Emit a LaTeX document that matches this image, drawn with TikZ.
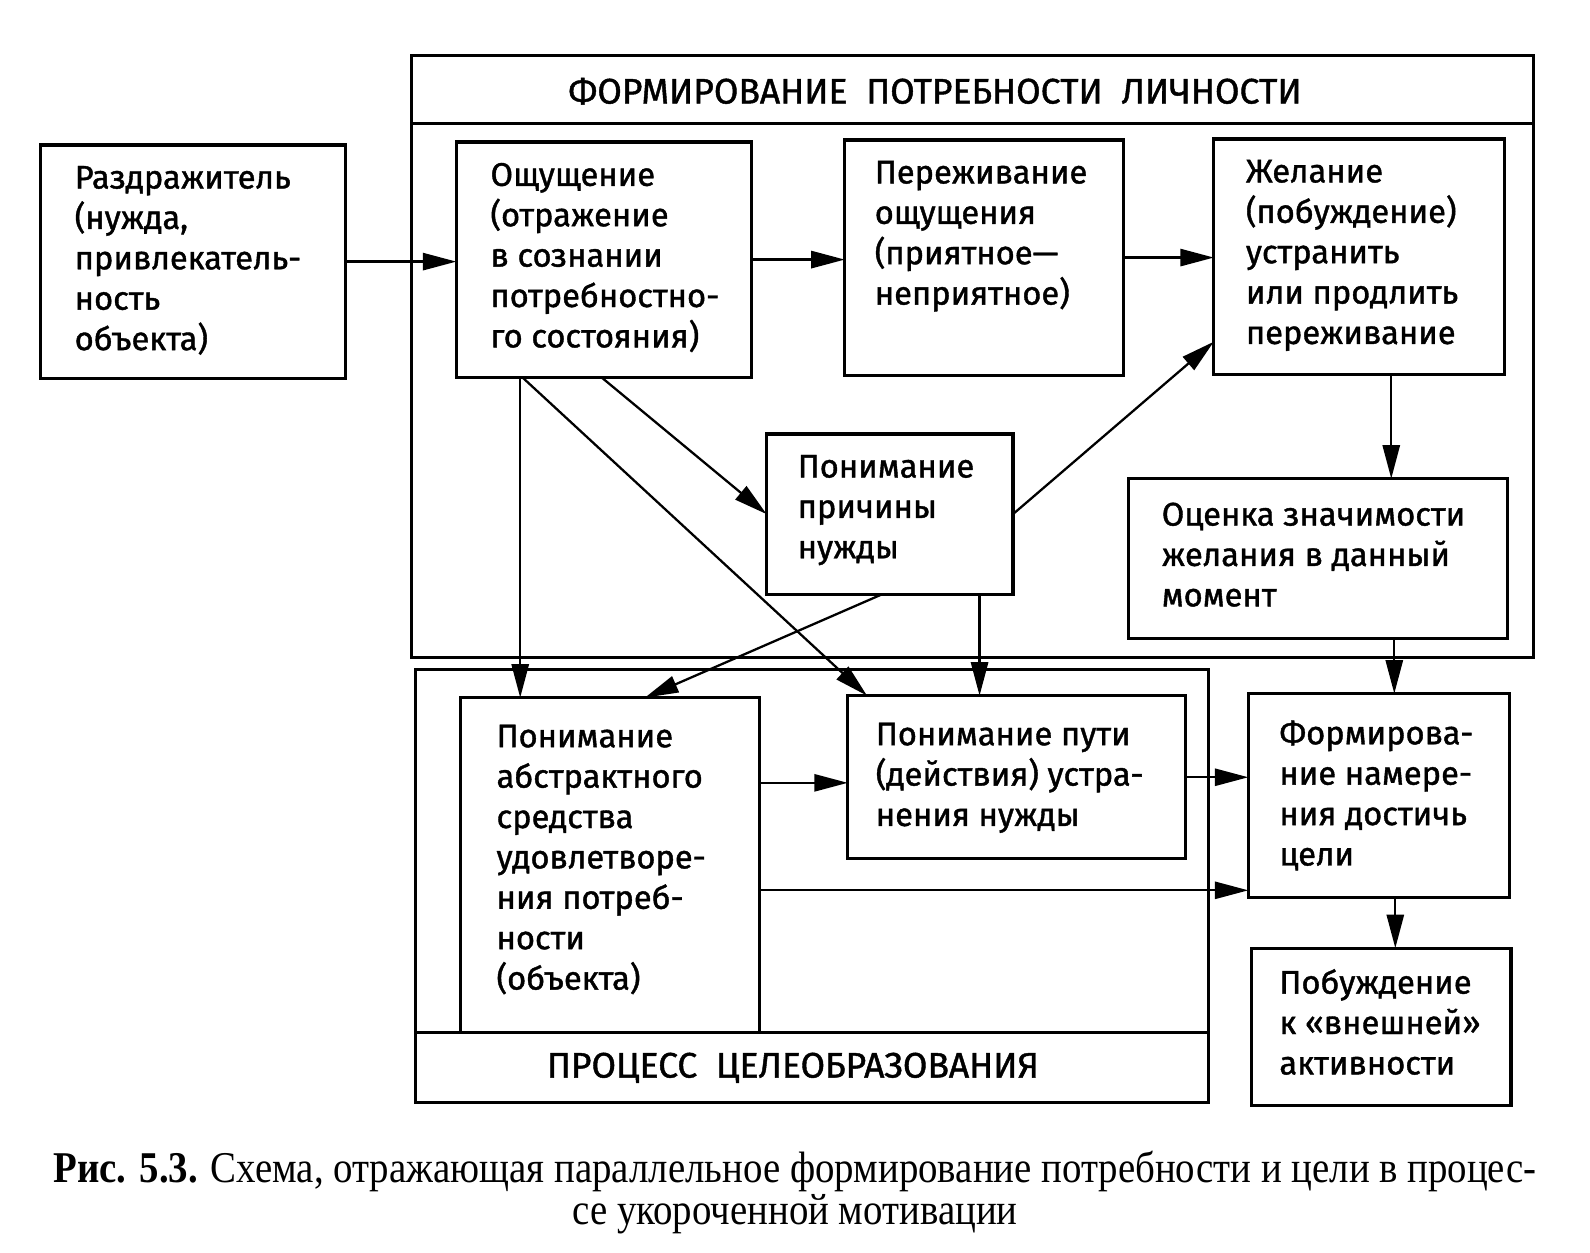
\documentclass[tikz,border=0pt]{standalone}
\usepackage{fontspec}
\setmainfont[FakeStretch=0.885]{Liberation Serif}
\newfontfamily\boxfont[FakeBold=1.2]{Fira Sans}
\usetikzlibrary{arrows.meta}
\newlength\ux
\setlength\ux{0.01014cm}
\begin{document}
\begin{tikzpicture}[x=\ux,y=-\ux,
  box/.style={draw, line width=0.9pt, anchor=north west, inner sep=0, outer sep=0},
  txt/.style={anchor=north west, inner sep=0, align=left, font=\boxfont\fontsize{9.3}{11.5}\selectfont},
  ttl/.style={inner sep=0, font=\boxfont\fontsize{10.1}{12}\selectfont},
  arr/.style={line width=0.65pt, -{Triangle[length=0.335cm,width=0.172cm]}},
  band/.style={line width=0.9pt}
]
\useasboundingbox (0,0) rectangle (1568,1234.7);
% frames
\node[box, minimum width=1106\ux, minimum height=593\ux] (fp) at (406,55) {};
\draw[band] ([yshift=-67\ux]fp.north west) -- ([yshift=-67\ux]fp.north east);
\node[ttl] (fpT) at (922,90) {ФОРМИРОВАНИЕ\ \ ПОТРЕБНОСТИ\ \ ЛИЧНОСТИ};
\node[box, minimum width=782\ux, minimum height=427\ux] (fc) at (410,660) {};
\draw[band] ([yshift=69\ux]fc.south west) -- ([yshift=69\ux]fc.south east);
\node[ttl] (fcT) at (782,1053) {ПРОЦЕСС\ \ ЦЕЛЕОБРАЗОВАНИЯ};
% boxes
\node[box, minimum width=301\ux, minimum height=230\ux] (razd) at (40,143) {};
\node[box, minimum width=291\ux, minimum height=232\ux] (osh) at (450,140) {};
\node[box, minimum width=275\ux, minimum height=232\ux] (per) at (833,138) {};
\node[box, minimum width=287\ux, minimum height=232\ux] (zhel) at (1197,137) {};
\node[box, minimum width=243\ux, minimum height=158\ux] (prich) at (756,428) {};
\node[box, minimum width=374\ux, minimum height=158\ux] (ocen) at (1113,472) {};
\node[box, minimum width=295\ux, minimum height=330\ux] (abstr) at (454,688) {};
\node[box, minimum width=333\ux, minimum height=161\ux] (put) at (836,686) {};
\node[box, minimum width=258\ux, minimum height=201\ux] (form) at (1231,684) {};
\node[box, minimum width=256\ux, minimum height=155\ux] (pob) at (1234,935) {};
% texts
\node[txt] (razdT) at ([shift={(33,20)}]razd.north west) {Раздражитель\\(нужда,\\привлекатель-\\ность\\объекта)};
\node[txt] (oshT) at ([shift={(33,20)}]osh.north west) {Ощущение\\(отражение\\в сознании\\потребностно-\\го состояния)};
\node[txt] (perT) at ([shift={(29,20)}]per.north west) {Переживание\\ощущения\\(приятное—\\неприятное)};
\node[txt] (zhelT) at ([shift={(31,20)}]zhel.north west) {Желание\\(побуждение)\\устранить\\или продлить\\переживание};
\node[txt] (prichT) at ([shift={(30,20)}]prich.north west) {Понимание\\причины\\нужды};
\node[txt] (ocenT) at ([shift={(32,23)}]ocen.north west) {Оценка значимости\\желания в данный\\момент};
\node[txt] (abstrT) at ([shift={(35,26)}]abstr.north west) {Понимание\\абстрактного\\средства\\удовлетворе-\\ния потреб-\\ности\\(объекта)};
\node[txt] (putT) at ([shift={(27,26)}]put.north west) {Понимание пути\\(действия) устра-\\нения нужды};
\node[txt] (formT) at ([shift={(30,26)}]form.north west) {Формирова-\\ние намере-\\ния достичь\\цели};
\node[txt] (pobT) at ([shift={(27,20)}]pob.north west) {Побуждение\\к «внешней»\\активности};
% anchor coordinates
\coordinate (a4) at ([xshift=63\ux]osh.south west);
\coordinate (a5s) at ([xshift=65\ux]osh.south west);
\coordinate (a5e) at ([xshift=19\ux]put.north west);
\coordinate (a6s) at ([xshift=143\ux]osh.south west);
\coordinate (a7e) at ([yshift=-84\ux]zhel.west);
\coordinate (a8s) at ([xshift=114\ux]prich.south west);
\coordinate (a8e) at ([xshift=182\ux]abstr.north west);
\coordinate (a9) at ([xshift=210\ux]prich.south west);
\coordinate (a10) at ([xshift=175\ux]zhel.south west);
\coordinate (a11) at ([xshift=262\ux]ocen.south west);
\coordinate (a12) at ([yshift=-84\ux]abstr.north east);
\coordinate (a14) at ([yshift=-190\ux]abstr.north east);
\coordinate (a15) at ([xshift=145\ux]form.south west);
% connectors
\draw[arr] (razd.east) -- (razd.east -| osh.west);
\draw[arr] (osh.east) -- (osh.east -| per.west);
\draw[arr] (per.east) -- (per.east -| zhel.west);
\draw[arr] (a4) -- (a4 |- abstr.north);
\draw[arr] (a5s) -- (a5e);
\draw[arr] (a6s) -- (prich.west);
\draw[arr] (prich.east) -- (a7e);
\draw[arr] (a8s) -- (a8e);
\draw[arr] (a9) -- (a9 |- put.north);
\draw[arr] (a10) -- (a10 |- ocen.north);
\draw[arr] (a11) -- (a11 |- form.north);
\draw[arr] (a12) -- (a12 -| put.west);
\draw[arr] (put.east) -- (put.east -| form.west);
\draw[arr] (a14) -- (a14 -| form.west);
\draw[arr] (a15) -- (a15 |- pob.north);
% caption
\node[inner sep=0, align=center, font=\fontsize{12.5}{12.1}\selectfont] (cap) at (784,1176)
  {{\bfseries Рис. 5.3.} Схема, отражающая параллельное формирование потребности и цели в процес-\\се укороченной мотивации};
\end{tikzpicture}
\end{document}
